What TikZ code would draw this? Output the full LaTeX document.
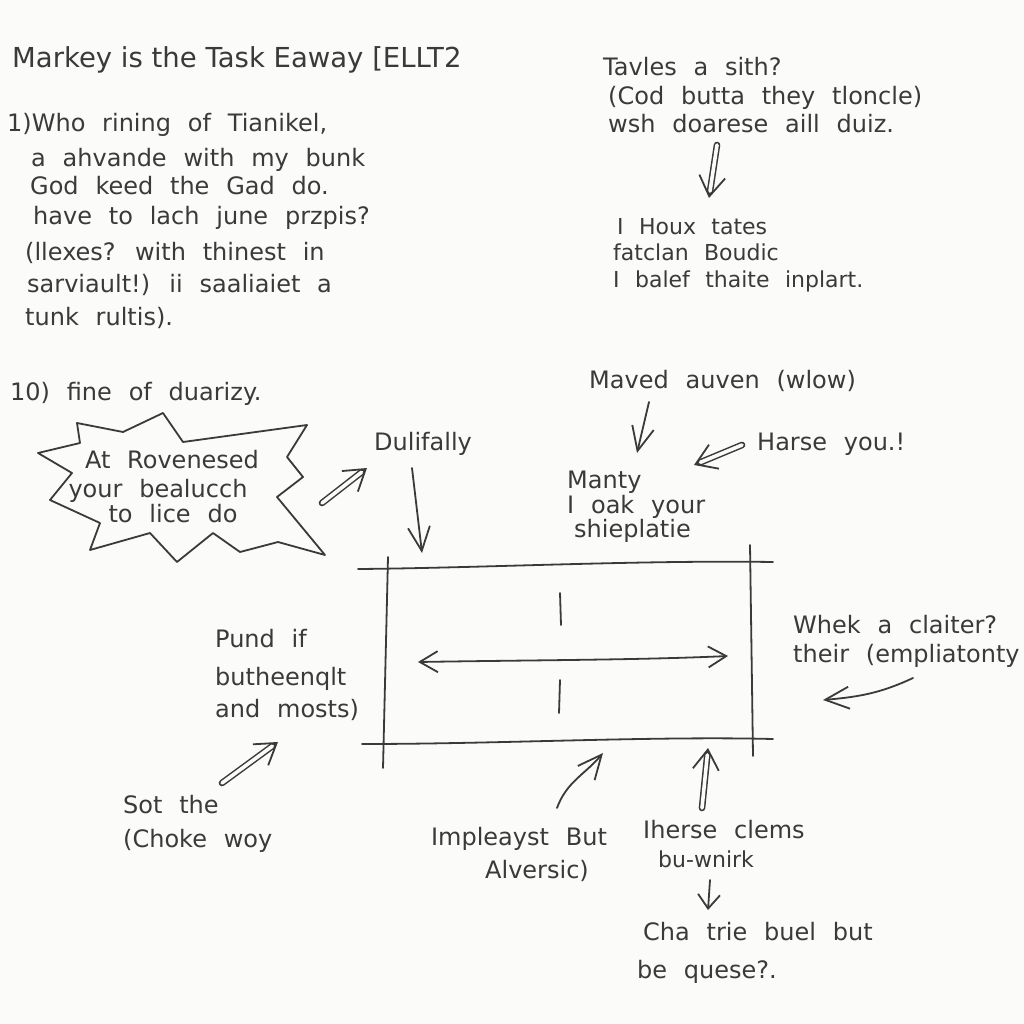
\documentclass[tikz,border=0pt]{standalone}
\usepackage{fontspec}
\setmainfont{DejaVu Sans}
\usetikzlibrary{arrows.meta}
\definecolor{ink}{HTML}{3A3A3A}
\definecolor{paper}{HTML}{FBFBFA}
\newcommand\widesp{\spaceskip=0.7em\relax}
\begin{document}
\begin{tikzpicture}[x=1pt,y=-1pt,
  txt/.style={anchor=base west, inner sep=0pt, text=ink,
    font=\fontsize{24}{28}\selectfont\widesp},
  small/.style={txt, font=\fontsize{22}{26}\selectfont\widesp},
  ctr/.style={txt, anchor=base},
  ttl/.style={anchor=base west, inner sep=0pt, text=ink, font=\fontsize{27.5}{32}\selectfont},
  pen/.style={draw=ink, line width=1.8pt, line cap=round, line join=round},
  arr/.style={pen, -{Straight Barb[length=24pt,width=22pt]}},
  arrs/.style={pen, <->, >={Straight Barb[length=18pt,width=21pt]}},
  dbl/.style={pen, -{Straight Barb[length=20pt,width=26pt]},
    postaction={draw=ink, line width=1.5pt, double=paper, double distance=3.6pt,
      line cap=round, -, shorten >=7pt}}
]
\useasboundingbox (0,0) rectangle (1024,1024);
\fill[paper] (0,0) rectangle (1024,1024);

% title
\node[ttl] (title) at (12,68) {Markey is the Task Eaway [ELLT2};

% left paragraph
\node[txt] (p1) at (7,132) {1)Who rining of Tianikel,};
\node[txt] (p2) at (31,167) {a ahvande with my bunk};
\node[txt] (p3) at (30,195) {God keed the Gad do.};
\node[txt] (p4) at (33,225) {have to lach june przpis?};
\node[txt] (p5) at (25,260) {(llexes? with thinest in};
\node[txt] (p6) at (27,292) {sarviault!) ii saaliaiet a};
\node[txt] (p7) at (25,325) {tunk rultis).};

% top right
\node[txt] (r1) at (603,76) {Tavles a sith?};
\node[txt] (r2) at (608,105) {(Cod butta they tloncle)};
\node[txt] (r3) at (608,133) {wsh doarese aill duiz.};
\node[small] (s1) at (617,234) {I Houx tates};
\node[small] (s2) at (613,260) {fatclan Boudic};
\node[small] (s3) at (613,287) {I balef thaite inplart.};
\coordinate (a1s) at (717,145);
\coordinate (a1e) at (709,198);
\draw[dbl] (a1s) -- (a1e);

% section 10
\node[txt] (q) at (10,400) {10) fine of duarizy.};

% starburst
\draw[pen] (38,453) -- (80,443) -- (77,423) -- (123,432) -- (163,413) -- (183,442)
  -- (307,425) -- (287,457) -- (303,477) -- (277,497) -- (325,555) -- (278,542)
  -- (240,552) -- (213,533) -- (177,562) -- (150,533) -- (90,550) -- (100,523)
  -- (50,500) -- (72,473) -- cycle;
\node[ctr] (b1) at (172,468) {At Rovenesed};
\node[ctr] (b2) at (158,497) {your bealucch};
\node[ctr] (b3) at (173,522) {to lice do};
\coordinate (a2s) at (322,503);
\coordinate (a2e) at (367,468);
\draw[dbl] (a2s) -- (a2e);

\node[ctr] (dul) at (423,450) {Dulifally};
\coordinate (a3s) at (412,468);
\coordinate (a3e) at (422,553);
\draw[arr] (a3s) -- (a3e);

% top-right of box
\node[txt] (mav) at (589,388) {Maved auven (wlow)};
\node[txt] (har) at (757,450) {Harse you.!};
\node[txt] (m1) at (567,488) {Manty};
\node[txt] (m2) at (567,513) {I oak your};
\node[txt] (m3) at (574,537) {shieplatie};
\coordinate (a4s) at (649,402);
\coordinate (a4e) at (637,453);
\draw[arr] (a4s) -- (a4e);
\coordinate (a5s) at (742,445);
\coordinate (a5e) at (694,465);
\draw[dbl] (a5s) -- (a5e);

% box
\draw[pen] (358,569) .. controls (480,568) and (640,560) .. (773,562);
\draw[pen] (362,744) .. controls (500,744) and (650,736) .. (773,739);
\draw[pen] (388,557) -- (383,768);
\draw[pen] (750,545) -- (753,756);
\draw[pen] (560,593) -- (561,625);
\draw[pen] (560,680) -- (559,713);
\coordinate (bl) at (418,662);
\coordinate (br) at (728,656);
\draw[arrs] (bl) .. controls (540,660) and (640,660) .. (br);

% left of box
\node[txt] (pu1) at (215,647) {Pund if};
\node[txt] (pu2) at (215,685) {butheenqlt};
\node[txt] (pu3) at (215,717) {and mosts)};
\node[txt] (so1) at (123,813) {Sot the};
\node[txt] (so2) at (123,847) {(Choke woy};
\coordinate (a7s) at (222,783);
\coordinate (a7e) at (278,742);
\draw[dbl] (a7s) -- (a7e);

% below box
\node[ctr] (im1) at (519,845) {Impleayst But};
\node[ctr] (im2) at (537,878) {Alversic)};
\coordinate (a8s) at (557,808);
\coordinate (a8e) at (603,753);
\draw[arr] (a8s) to[out=70, in=230] (a8e);

\node[txt] (ih1) at (643,838) {Iherse clems};
\node[small] (ih2) at (658,867) {bu-wnirk};
\coordinate (a9s) at (702,808);
\coordinate (a9e) at (708,748);
\draw[dbl] (a9s) -- (a9e);
\coordinate (a10s) at (710,880);
\coordinate (a10e) at (708,910);
\draw[pen, -{Straight Barb[length=14pt,width=22pt]}] (a10s) -- (a10e);

\node[txt] (ch1) at (643,940) {Cha trie buel but};
\node[txt] (ch2) at (637,978) {be quese?.};

% right
\node[txt] (wh1) at (793,633) {Whek a claiter?};
\node[txt] (wh2) at (793,662) {their (empliatonty};
\coordinate (a11s) at (913,678);
\coordinate (a11e) at (823,700);
\draw[arr] (a11s) to[out=205, in=5] (a11e);
\end{tikzpicture}
\end{document}
